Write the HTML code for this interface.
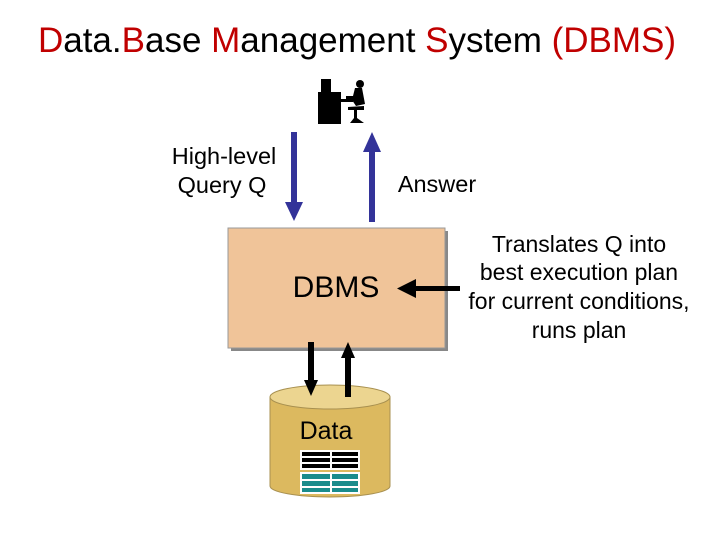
<!DOCTYPE html>
<html><head><style>
body{margin:0;width:720px;height:540px;background:#fff;overflow:hidden;font-family:"Liberation Sans",sans-serif}
</style></head><body>
<svg width="720" height="540" xmlns="http://www.w3.org/2000/svg" font-family="Liberation Sans, sans-serif">
<text x="357" y="52" font-size="35" text-anchor="middle"><tspan fill="#c00000">D</tspan>ata.<tspan fill="#c00000">B</tspan>ase <tspan fill="#c00000">M</tspan>anagement <tspan fill="#c00000">S</tspan>ystem <tspan fill="#c00000">(DBMS)</tspan></text>
<g fill="#000">
<rect x="318" y="92" width="23" height="32"/>
<rect x="321" y="79" width="10" height="13"/>
<rect x="341" y="99" width="12" height="3"/>
<circle cx="360" cy="84" r="4"/>
<path d="M355 88 L362 88 L365 104 L356 106 L352 100 L346 99 L346 96 L353 96 Z"/>
<path d="M348 107 L364 106 L364 110 L357 110 L357 118 L364 123 L350 123 L354 118 L354 110 L348 110 Z"/>
</g>
<rect x="291" y="132" width="6" height="72" fill="#333399"/>
<polygon points="285,202 303,202 294,221" fill="#333399"/>
<rect x="369" y="150" width="6" height="72" fill="#333399"/>
<polygon points="363,152 381,152 372,132" fill="#333399"/>
<text x="224" y="164" font-size="23.5" text-anchor="middle">High-level</text>
<text x="222" y="193" font-size="23.5" text-anchor="middle">Query Q</text>
<text x="437" y="192" font-size="23.5" text-anchor="middle">Answer</text>
<rect x="231" y="231" width="217" height="120" fill="#888"/>
<rect x="228" y="228" width="217" height="120" fill="#f0c499" stroke="#999" stroke-width="1"/>
<text x="336" y="297" font-size="30" text-anchor="middle">DBMS</text>
<rect x="412" y="286" width="48" height="5" fill="#000"/>
<polygon points="397,288.5 416,279 416,298" fill="#000"/>
<text font-size="23" text-anchor="middle"><tspan x="579" y="252">Translates Q into</tspan><tspan x="579" y="280">best execution plan</tspan><tspan x="579" y="309">for current conditions,</tspan><tspan x="579" y="338">runs plan</tspan></text>
<path d="M270 397 L270 486 A60 11 0 0 0 390 486 L390 397 Z" fill="#dcb95f" stroke="#a89050"/>
<ellipse cx="330" cy="397" rx="60" ry="12" fill="#ecd590" stroke="#a89050"/>
<rect x="308" y="342" width="6" height="40" fill="#000"/>
<polygon points="304,380 318,380 311,396" fill="#000"/>
<rect x="345" y="356" width="6" height="41" fill="#000"/>
<polygon points="341,358 355,358 348,342" fill="#000"/>
<text x="326" y="439" font-size="25" text-anchor="middle">Data</text>
<rect x="300" y="450" width="60" height="20" fill="#fff"/>
<rect x="302" y="452" width="28" height="4" fill="#000"/><rect x="332" y="452" width="26" height="4" fill="#000"/>
<rect x="302" y="458" width="28" height="4" fill="#000"/><rect x="332" y="458" width="26" height="4" fill="#000"/>
<rect x="302" y="464" width="28" height="4" fill="#000"/><rect x="332" y="464" width="26" height="4" fill="#000"/>
<rect x="300" y="472" width="60" height="22" fill="#fff"/>
<rect x="302" y="474" width="28" height="5" fill="#1a8c8c"/><rect x="332" y="474" width="26" height="5" fill="#1a8c8c"/>
<rect x="302" y="481" width="28" height="5" fill="#1a8c8c"/><rect x="332" y="481" width="26" height="5" fill="#1a8c8c"/>
<rect x="302" y="488" width="28" height="4" fill="#1a8c8c"/><rect x="332" y="488" width="26" height="4" fill="#1a8c8c"/>
</svg>
</body></html>
